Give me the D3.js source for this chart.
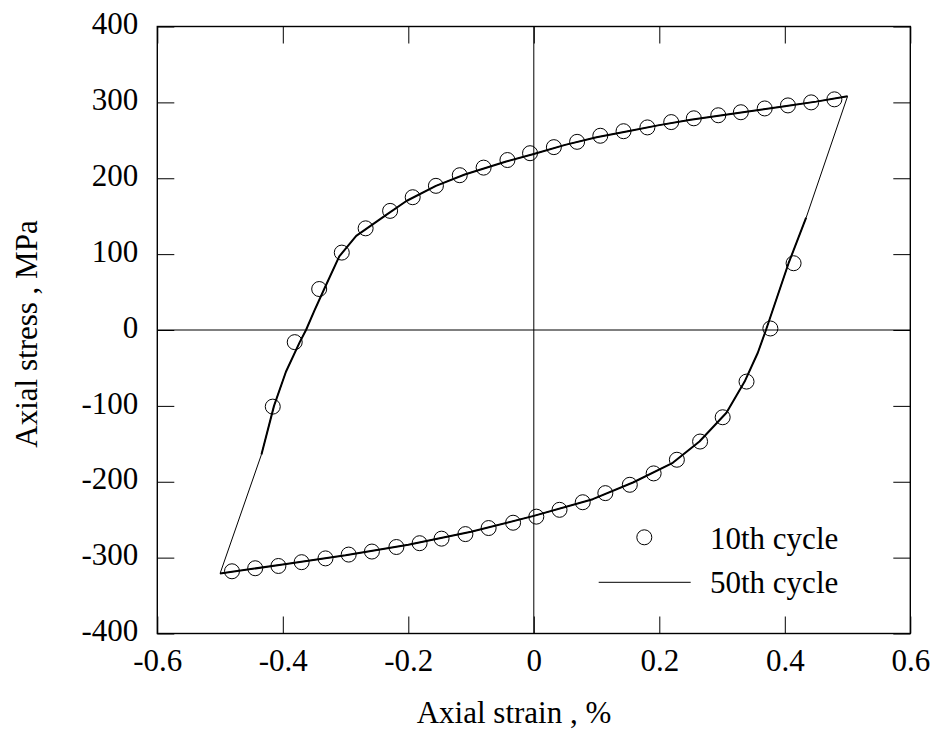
<!DOCTYPE html>
<html>
<head>
<meta charset="utf-8">
<script src="https://cdn.jsdelivr.net/npm/d3@7"></script>
<style>
	body { margin: 0; background: #fff; }
	text { font-family: "Liberation Serif", "Times New Roman", serif; }
</style>
</head>
<body>
<script>
// Data: [strain %, stress MPa]
var xTicks = [-0.6, -0.4, -0.2, 0, 0.2, 0.4, 0.6];
var yTicks = [-400, -300, -200, -100, 0, 100, 200, 300, 400];

// 10th cycle, open circles
var cycle10 = [
	[-0.416, -101], [-0.381, -16], [-0.342, 54], [-0.306, 102], [-0.268, 134],
	[-0.229, 157], [-0.193, 175], [-0.156, 190], [-0.118, 204], [-0.080, 214],
	[-0.042, 224], [-0.006, 233], [0.032, 241], [0.069, 248], [0.106, 256],
	[0.143, 262], [0.181, 267], [0.219, 274], [0.255, 279], [0.294, 283],
	[0.330, 287], [0.368, 292], [0.405, 296], [0.442, 300], [0.479, 304],
	[0.414, 88], [0.377, 2], [0.339, -68], [0.301, -115], [0.265, -147],
	[0.228, -171], [0.191, -189], [0.153, -204], [0.114, -215], [0.078, -227],
	[0.041, -237], [0.004, -246], [-0.033, -254], [-0.072, -261], [-0.109, -269],
	[-0.147, -275], [-0.182, -281], [-0.219, -286], [-0.258, -292], [-0.295, -296],
	[-0.332, -301], [-0.370, -306], [-0.407, -311], [-0.444, -314], [-0.481, -318]
];

// 50th cycle, line: loading branch (compression -> tension)
var upper50 = [
	[-0.434, -164], [-0.414, -100], [-0.395, -55], [-0.373, -16], [-0.363, 0],
	[-0.350, 25], [-0.334, 54], [-0.310, 97], [-0.283, 124], [-0.238, 150],
	[-0.203, 170], [-0.156, 190], [-0.110, 205], [-0.044, 222], [0, 232],
	[0.05, 244], [0.1, 254], [0.15, 262], [0.2, 270], [0.25, 277],
	[0.3, 283], [0.35, 289], [0.4, 295], [0.45, 301], [0.5, 308]
];
// 50th cycle, line: unloading branch (tension -> compression)
var lower50 = [
	[0.434, 148], [0.406, 88], [0.370, 0], [0.357, -30], [0.336, -68],
	[0.307, -109], [0.264, -147], [0.2215, -175], [0.158, -201], [0.094, -223],
	[0.0, -245], [-0.1, -266], [-0.2, -283], [-0.3, -297], [-0.4, -309],
	[-0.5, -321]
];

var legendLabels = ["10th cycle", "50th cycle"];

var margin = {top: 26.5, left: 157.3},
	w = 753,
	h = 607,
	fontSize = 31;

var svg = d3.select("body")
	.append("svg")
	.attr("width", 936)
	.attr("height", 734);

var g = svg.append("g")
	.attr("transform", "translate(" + margin.left + "," + margin.top + ")");

var x = d3.scaleLinear().domain([-0.6, 0.6]).range([0, w]);
var y = d3.scaleLinear().domain([-400, 400]).range([h, 0]);

// Zero lines
g.append("line")
	.attr("x1", x(0)).attr("x2", x(0))
	.attr("y1", 0).attr("y2", h)
	.attr("stroke", "black").attr("stroke-width", 1);
g.append("line")
	.attr("x1", 0).attr("x2", w)
	.attr("y1", y(0)).attr("y2", y(0))
	.attr("stroke", "black").attr("stroke-width", 1);

// Axes, ticks point inward
var fmt = function(d) { return String(d); };

var xAxis = g.append("g")
	.attr("transform", "translate(0," + h + ")")
	.call(d3.axisBottom(x).tickValues(xTicks).tickSize(-17).tickPadding(15).tickFormat(fmt));
var yAxis = g.append("g")
	.call(d3.axisLeft(y).tickValues(yTicks).tickSize(-17).tickPadding(19).tickFormat(fmt));
g.append("g")
	.call(d3.axisTop(x).tickValues(xTicks).tickSize(-17).tickFormat(""));
g.append("g")
	.attr("transform", "translate(" + w + ",0)")
	.call(d3.axisRight(y).tickValues(yTicks).tickSize(-17).tickFormat(""));

g.selectAll(".domain").remove();
g.selectAll(".tick line").attr("stroke", "black").attr("stroke-width", 1);
g.selectAll(".tick text")
	.attr("font-family", "'Liberation Serif', 'Times New Roman', serif")
	.attr("font-size", fontSize + "px")
	.attr("fill", "black");
xAxis.selectAll(".tick text").attr("dy", "0.71em");
yAxis.selectAll(".tick text").attr("dy", "0.23em");

// Frame
g.append("rect")
	.attr("x", 0).attr("y", 0)
	.attr("width", w).attr("height", h)
	.attr("fill", "none")
	.attr("stroke", "black")
	.attr("stroke-width", 1.4);

// 50th cycle loop
var line = d3.line()
	.x(function(d) { return x(d[0]); })
	.y(function(d) { return y(d[1]); });

// thin elastic segments closing the loop
g.append("path")
	.attr("d", line(upper50.concat(lower50, [upper50[0]])))
	.attr("fill", "none")
	.attr("stroke", "black")
	.attr("stroke-width", 1);
// plastic branches drawn heavier
[upper50, lower50].forEach(function(b) {
	g.append("path")
		.attr("d", line(b))
		.attr("fill", "none")
		.attr("stroke", "black")
		.attr("stroke-width", 2)
		.attr("stroke-linejoin", "round");
});

// 10th cycle circles
g.selectAll("circle.c10")
	.data(cycle10)
	.enter()
	.append("circle")
	.attr("class", "c10")
	.attr("cx", function(d) { return x(d[0]); })
	.attr("cy", function(d) { return y(d[1]); })
	.attr("r", 7.5)
	.attr("fill", "none")
	.attr("stroke", "black")
	.attr("stroke-width", 1);

// Legend
svg.append("circle")
	.attr("cx", 644.3).attr("cy", 537.3)
	.attr("r", 7.5)
	.attr("fill", "none")
	.attr("stroke", "black")
	.attr("stroke-width", 1);
svg.append("line")
	.attr("x1", 598.7).attr("x2", 690.7)
	.attr("y1", 582.3).attr("y2", 582.3)
	.attr("stroke", "black")
	.attr("stroke-width", 1);
svg.selectAll("text.legend")
	.data(legendLabels)
	.enter()
	.append("text")
	.attr("class", "legend")
	.text(function(d) { return d; })
	.attr("x", 710)
	.attr("y", function(d, i) { return 548.5 + i * 44.3; })
	.attr("font-size", fontSize + "px");

// Axis titles
svg.append("text")
	.text("Axial strain , %")
	.attr("x", 514)
	.attr("y", 723)
	.attr("text-anchor", "middle")
	.attr("font-size", fontSize + "px");
svg.append("text")
	.text("Axial stress , MPa")
	.attr("transform", "translate(36.5,334) rotate(-90)")
	.attr("text-anchor", "middle")
	.attr("font-size", fontSize + "px");
</script>
</body>
</html>
